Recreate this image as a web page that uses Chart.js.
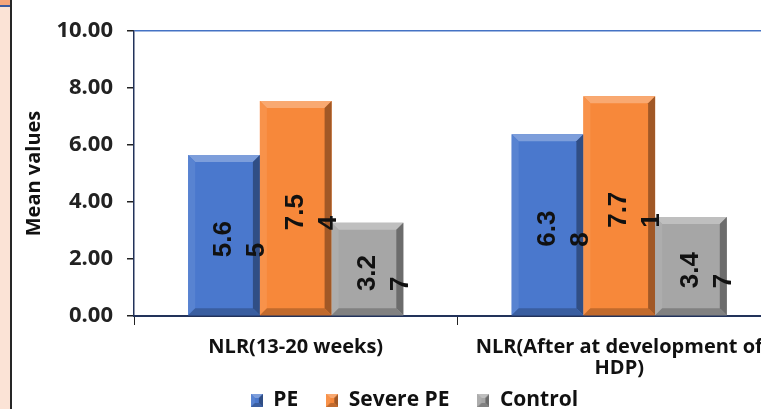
<!DOCTYPE html>
<html>
<head>
<meta charset="utf-8">
<script src="https://cdn.jsdelivr.net/npm/chart.js@4.4.1/dist/chart.umd.min.js"></script>
<style>
  html, body { margin: 0; padding: 0; background: #fff; overflow: hidden; width: 761px; height: 409px; }
  #wrap { position: absolute; left: 0; top: 0; width: 800px; height: 409px; }
  #strip { position: absolute; left: 0; top: 0; width: 10px; height: 409px; background: #FBE3D6; border-right: 2px solid #262626; z-index: 2; }
  #stripTop { position: absolute; left: 0; top: 0; width: 10px; height: 5px; background: #F4A57C; z-index: 3; }
  #stripLine { position: absolute; left: 0; top: 5px; width: 10px; height: 2px; background: #3B5BA0; z-index: 3; }
</style>
</head>
<body>
<div id="wrap"><canvas id="c" width="800" height="409"></canvas></div>
<div id="strip"></div><div id="stripTop"></div><div id="stripLine"></div>
<script>
const categories = ['NLR(13-20 weeks)', ['NLR(After at development of', 'HDP)']];
const seriesNames = ['PE', 'Severe PE', 'Control'];
const peValues = [5.65, 6.38];
const severePeValues = [7.54, 7.71];
const controlValues = [3.27, 3.47];
const yMin = 0, yMax = 10, yStep = 2;

const seriesColors = ['#4A78CD', '#F7883A', '#A6A6A6'];
const LEGEND_PAD = 28;

function shade(hex, amt) {
  const n = parseInt(hex.slice(1), 16);
  let r = (n >> 16) & 255, g = (n >> 8) & 255, b = n & 255;
  const f = (c) => Math.max(0, Math.min(255, Math.round(amt >= 0 ? c + (255 - c) * amt : c * (1 + amt))));
  return 'rgb(' + f(r) + ',' + f(g) + ',' + f(b) + ')';
}

function drawBevel(ctx, l, t, r, b, base, d) {
  const poly = (pts, col) => {
    ctx.beginPath();
    ctx.moveTo(pts[0][0], pts[0][1]);
    for (let i = 1; i < pts.length; i++) ctx.lineTo(pts[i][0], pts[i][1]);
    ctx.closePath();
    ctx.fillStyle = col;
    ctx.fill();
  };
  poly([[l, t], [r, t], [r - d, t + d], [l + d, t + d]], shade(base, 0.28));
  poly([[l, t], [l + d, t + d], [l + d, b - d], [l, b]], shade(base, 0.08));
  poly([[r, t], [r, b], [r - d, b - d], [r - d, t + d]], shade(base, -0.35));
  poly([[l, b], [r, b], [r - d, b - d], [l + d, b - d]], shade(base, -0.22));
}

function legendIcon(color) {
  const cv = document.createElement('canvas');
  cv.width = 12; cv.height = 13;
  const c = cv.getContext('2d');
  c.fillStyle = color;
  c.fillRect(0, 0, 12, 13);
  drawBevel(c, 0, 0, 12, 13, color, 4);
  return cv;
}

const bevelPlugin = {
  id: 'bevel',
  afterDatasetsDraw(chart) {
    const ctx = chart.ctx;
    chart.data.datasets.forEach((ds, di) => {
      const meta = chart.getDatasetMeta(di);
      meta.data.forEach((bar) => {
        const p = bar.getProps(['x', 'y', 'base', 'width'], true);
        ctx.save();
        drawBevel(ctx, p.x - p.width / 2, p.y, p.x + p.width / 2, p.base, seriesColors[di], 7);
        ctx.restore();
      });
    });
  }
};

const labelPlugin = {
  id: 'rotLabels',
  afterDatasetsDraw(chart) {
    const ctx = chart.ctx;
    ctx.save();
    ctx.font = 'bold 26px "Liberation Sans", Arial, sans-serif';
    ctx.fillStyle = '#111';
    ctx.textBaseline = 'middle';
    ctx.textAlign = 'left';
    chart.data.datasets.forEach((ds, di) => {
      const meta = chart.getDatasetMeta(di);
      meta.data.forEach((bar, i) => {
        const txt = ds.data[i].toFixed(2);
        const lines = [txt.slice(0, 3), txt.slice(3)];
        const p = bar.getProps(['x', 'y', 'base'], true);
        const mid = (p.y + p.base) / 2 + 4;
        const w1 = ctx.measureText(lines[0]).width;
        ctx.save();
        ctx.translate(p.x, mid + w1 / 2);
        ctx.rotate(-Math.PI / 2);
        ctx.fillText(lines[0], 0, 0);
        ctx.fillText(lines[1], 0, 33);
        ctx.restore();
      });
    });
    ctx.restore();
  }
};

const legendShift = {
  id: 'legendShift',
  afterLayout(chart) {
    const lg = chart.legend;
    if (lg) {
      lg.left += 24; lg.right += 24;
      const dy = (399 - 9 - LEGEND_PAD) - lg.top;
      lg.top += dy; lg.bottom += dy;
    }
  }
};

const FONT = '"Open Sans", Lato, sans-serif';

new Chart(document.getElementById('c'), {
  type: 'bar',
  data: {
    labels: categories,
    datasets: [
      { label: seriesNames[0], data: peValues, backgroundColor: seriesColors[0], pointStyle: legendIcon(seriesColors[0]) },
      { label: seriesNames[1], data: severePeValues, backgroundColor: seriesColors[1], pointStyle: legendIcon(seriesColors[1]) },
      { label: seriesNames[2], data: controlValues, backgroundColor: seriesColors[2], pointStyle: legendIcon(seriesColors[2]) }
    ]
  },
  options: {
    responsive: false,
    animation: false,
    devicePixelRatio: 1,
    layout: { padding: { left: 0, right: 19, top: 31, bottom: -28 } },
    datasets: { bar: { categoryPercentage: 0.665, barPercentage: 1.0, borderWidth: 0 } },
    plugins: {
      tooltip: { enabled: false },
      legend: {
        position: 'bottom',
        labels: {
          usePointStyle: true,
          boxWidth: 12, boxHeight: 12, padding: LEGEND_PAD,
          color: '#111',
          font: { family: FONT, size: 21, weight: 'bold' }
        }
      }
    },
    scales: {
      x: {
        afterFit(scale) { scale.height = 62; },
        grid: { color: 'rgba(0,0,0,0)', tickColor: '#222', tickLength: 9, offset: true, drawOnChartArea: false },
        border: { color: '#22325A', width: 2 },
        ticks: { color: '#111', maxRotation: 0, autoSkip: false, padding: 12, font: { family: FONT, size: 20, weight: 'bold', lineHeight: 1.05 } }
      },
      y: {
        min: yMin, max: yMax,
        afterFit(scale) { scale.width = 134; },
        grid: {
          color: (c) => (c.tick && c.tick.value === yMax ? '#4472C4' : 'rgba(0,0,0,0)'),
          tickColor: '#222', tickLength: 7, lineWidth: 1.5
        },
        border: { color: '#22325A', width: 1.5 },
        ticks: {
          stepSize: yStep, color: '#222', padding: 14,
          font: { family: FONT, size: 22, weight: 'bold' },
          callback: (v) => Number(v).toFixed(2)
        },
        title: {
          display: true, text: 'Mean values', color: '#111',
          padding: { top: 22, bottom: 0 },
          font: { family: FONT, size: 20, weight: 'bold' }
        }
      }
    }
  },
  plugins: [bevelPlugin, labelPlugin, legendShift]
});
</script>
</body>
</html>
